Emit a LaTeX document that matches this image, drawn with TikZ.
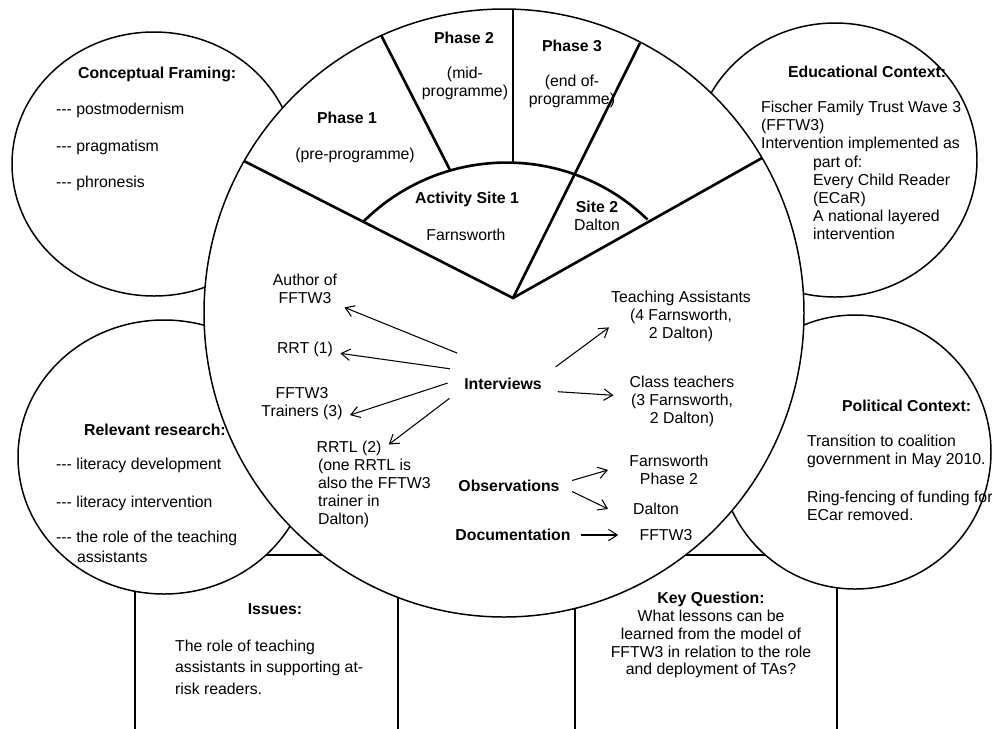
\documentclass[tikz,border=0pt]{standalone}
\usepackage{fontspec}
\setmainfont{Liberation Sans}
\usetikzlibrary{arrows.meta}
\begin{document}
\fontsize{9}{10.2}\selectfont
\begin{tikzpicture}[x=0.02cm,y=-0.02cm,
		bubble/.style={draw,line width=.85pt,fill=white},
		wedge/.style={line width=1.5pt},
		boxline/.style={line width=1.1pt},
		lbl/.style={inner sep=1pt,align=center},
		hd/.style={lbl,font=\bfseries},
		side/.style={lbl,inner sep=4pt},
		arr/.style={line width=.6pt,-{Straight Barb[length=5pt,width=6.5pt]}}]
				\useasboundingbox (0,0) rectangle (992,728);
				
				% boxes below
				\draw[boxline] (135,760) -- (135,555) -- (398,555) -- (398,760);
				\draw[boxline] (575,760) -- (575,555) -- (837,555) -- (837,760);
				
				% outer circles
				\draw[bubble] (154,164) ellipse [x radius=142, y radius=132];
				\draw[bubble] (835,160) ellipse [x radius=142, y radius=137];
				\draw[bubble] (164,457) ellipse [x radius=146, y radius=137];
				\draw[bubble] (855,452) ellipse [x radius=136, y radius=137];
				
				% main circle
				\draw[bubble] (504,313) ellipse [x radius=300, y radius=304];
				
				% phases and sites
				\coordinate (apex) at (513,298);
				\coordinate (lEnd) at (244,161);
				\coordinate (rEnd) at (762,158);
				\coordinate (p3End) at (640,43);
				\coordinate (p12In) at (450,170);
				\coordinate (p12Out) at (381,35);
				\coordinate (vIn) at (513,162);
				\coordinate (vOut) at (513,9);
				\coordinate (arcL) at (363,222);
				
				\draw[wedge] (lEnd) -- (apex) -- (rEnd);
				\draw[wedge] (apex) -- (p3End);
				\draw[wedge] (p12In) -- (p12Out);
				\draw[wedge] (vIn) -- (vOut);
				\draw[wedge] (arcL) arc [start angle=135, end angle=46, radius=4.06cm];
				
				\node[hd] (ph1) at (347,118) {Phase 1};
				\node[lbl] (ph1sub) at (355,155) {(pre-programme)};
				\node[hd] (ph2) at (464,38) {Phase 2};
				\node[lbl] (ph2sub) at (465,83) {(mid-\\programme)};
				\node[hd] (ph3) at (572,46) {Phase 3};
				\node[lbl] (ph3sub) at (572,91) {(end of-\\programme)};
				\node[hd] (site1) at (467,199) {Activity Site 1};
				\node[lbl] (site1sub) at (466,235) {Farnsworth};
				\node[lbl] (site2) at (597,216) {\bfseries Site 2\\Dalton};
				
				% conceptual framing
				\node[hd,anchor=west] (cfHead) at (76,74) {Conceptual Framing:};
				\node[lbl,anchor=west] (cf1) at (54,110) {{-}{-}{-} postmodernism};
				\node[lbl,anchor=west] (cf2) at (54,147) {{-}{-}{-} pragmatism};
				\node[lbl,anchor=west] (cf3) at (54,183) {{-}{-}{-} phronesis};
				
				% educational context
				\node[hd,anchor=west] (edHead) at (786,72) {Educational Context:};
				\node[lbl,anchor=west,align=left] (edBody) at (759,126) {Fischer Family Trust Wave 3\\(FFTW3)\\Intervention implemented as};
				\node[lbl,anchor=west,align=left] (edSub) at (811,198) {part of:\\Every Child Reader\\(ECaR)\\A national layered\\intervention};
				
				% relevant research
				\node[hd] (rrHead) at (155,430) {Relevant research:};
				\node[lbl,anchor=west] (rr1) at (54,465) {{-}{-}{-} literacy development};
				\node[lbl,anchor=west] (rr2) at (54,503) {{-}{-}{-} literacy intervention};
				\node[lbl,anchor=west] (rr3) at (54,538) {{-}{-}{-} the role of the teaching};
				\node[lbl,anchor=west] (rr3b) at (75,557) {assistants};
				
				% political context
				\node[hd,anchor=west] (polHead) at (840,406) {Political Context:};
				\node[lbl,anchor=west,align=left] (pol1) at (805,451) {Transition to coalition\\government in May 2010.};
				\node[lbl,anchor=west,align=left] (pol2) at (805,506) {Ring-fencing of funding for\\ECar removed.};
				
				% issues and key question
				\node[hd] (issHead) at (275,609) {Issues:};
				\node[lbl,anchor=west,align=left] (iss) at (173,667) {The role of teaching\\[2pt]assistants in supporting at-\\[2pt]risk readers.};
				\node[hd] (kqHead) at (711,599) {Key Question:};
				\node[lbl] (kq) at (711,644) {What lessons can be\\learned from the model of\\FFTW3 in relation to the role\\and deployment of TAs?};
				
				% data sources
				\node[circle,inner sep=0pt,minimum size=2.2cm,font=\bfseries] (intv) at (503,384) {Interviews};
				\node[side] (author) at (305,289) {Author of\\FFTW3};
				\node[side] (rrt) at (305,349) {RRT (1)};
				\node[side] (trainers) at (302,404) {FFTW3\\Trainers (3)};
				\node[side] (rrtl) at (349,448) {RRTL (2)};
				\node[lbl,anchor=north west,align=left] (rrtlNote) at (316,457) {(one RRTL is\\also the FFTW3\\trainer in\\Dalton)};
				\node[lbl] (ta) at (681,316) {Teaching Assistants\\(4 Farnsworth,\\2 Dalton)};
				\node[lbl] (ct) at (682,401) {Class teachers\\(3 Farnsworth,\\2 Dalton)};
				\node[hd] (obs) at (509,486) {Observations};
				\node[lbl] (farnP2) at (669,470) {Farnsworth\\Phase 2};
				\node[lbl] (daltonObs) at (656,509) {Dalton};
				\node[hd] (docs) at (513,535) {Documentation};
				\node[lbl] (fftwDoc) at (666,535) {FFTW3};
				
				\draw[arr] (intv.146) -- (author.-25);
				\draw[arr] (intv.164) -- (rrt.-7);
				\draw[arr] (intv.179) -- (trainers.-13);
				\draw[arr] (intv.195) -- (rrtl.5);
				\draw[arr] (intv.18) -- (ta.189);
				\draw[arr] (intv.-8) -- ([xshift=-8pt]ct.174);
				\draw[arr] ([xshift=6pt]obs.6) -- ([xshift=-11pt]farnP2.west);
				\draw[arr] ([xshift=6pt]obs.-6) -- ([xshift=-13pt]daltonObs.west);
				\draw[arr] ([xshift=5pt]docs.east) -- ([xshift=-11pt]fftwDoc.west);
			\end{tikzpicture}
\end{document}
